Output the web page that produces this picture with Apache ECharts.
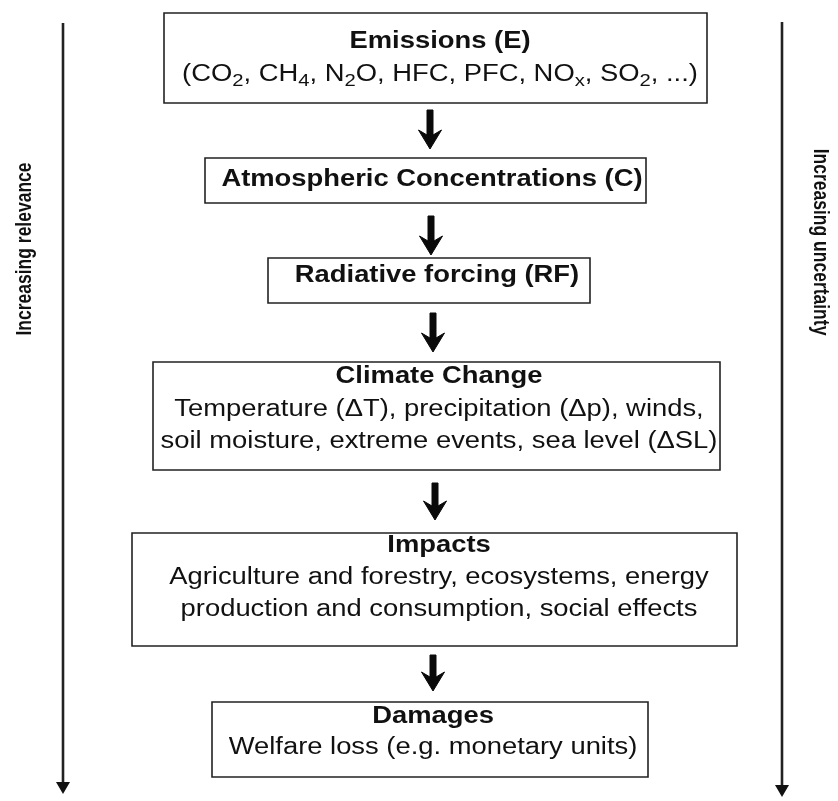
<!DOCTYPE html>
<html>
<head>
<meta charset="utf-8">
<script src="https://cdn.jsdelivr.net/npm/echarts@6/dist/echarts.min.js"></script>
<style>
html,body{margin:0;padding:0;background:#fff;}
#chart{width:838px;height:801px;}
</style>
</head>
<body>
<div id="chart"></div>
<script>
// ---- content (texts) ----
const boxTitles = [
  'Emissions (E)',
  'Atmospheric Concentrations (C)',
  'Radiative forcing (RF)',
  'Climate Change',
  'Impacts',
  'Damages'
];
const boxDetails = [
  ['(CO{s|2}, CH{s|4}, N{s|2}O, HFC, PFC, NO{s|x}, SO{s|2}, ...)'],
  [],
  [],
  ['Temperature (\u0394T), precipitation (\u0394p), winds,', 'soil moisture, extreme events, sea level (\u0394SL)'],
  ['Agriculture and forestry, ecosystems, energy', 'production and consumption, social effects'],
  ['Welfare loss (e.g. monetary units)']
];
const sideLabels = ['Increasing relevance', 'Increasing uncertainty'];

// ---- layout (positions in diagram units) ----
// [left, top, right, bottom, textCenterX, firstLineY, lineGap]
const boxLayout = [
  [164, 13, 707, 103, 440, 42, 33],
  [205, 158, 646, 203, 432, 180, 33],
  [268, 258, 590, 303, 437, 276, 33],
  [153, 362, 720, 470, 439, 377, 32.5],
  [132, 533, 737, 646, 439, 546, 32],
  [212, 702, 648, 777, 433, 717, 31]
];
// [x, yStart, yTip]
const arrowLayout = [
  [430, 110, 149],
  [431, 216, 255],
  [433, 313, 352],
  [435, 483, 520],
  [433, 655, 691]
];
// [x, yStart, yTip, textX, textY, rotationSign]
const sideLayout = [
  [63, 23, 794, 25, 249, 1],
  [782, 22, 797, 820, 242, -1]
];

const FONT = '"Liberation Sans", Arial, Helvetica, sans-serif';
const STRETCH = 1.19;

const chart = echarts.init(document.getElementById('chart'), null, {renderer: 'canvas'});

function renderBox(params, api) {
  const i = params.dataIndex;
  const p0 = api.coord([api.value(0), api.value(1)]);
  const p1 = api.coord([api.value(2), api.value(3)]);
  const t = api.coord([api.value(4), api.value(5)]);
  const gapPx = api.coord([api.value(4), api.value(5) + api.value(6)])[1] - t[1];
  const children = [{
    type: 'rect',
    shape: {x: p0[0], y: p0[1], width: p1[0] - p0[0], height: p1[1] - p0[1]},
    style: {fill: '#fff', stroke: '#222', lineWidth: 1.6}
  }];
  const lines = [{text: boxTitles[i], bold: true}].concat(boxDetails[i].map(s => ({text: s, bold: false})));
  lines.forEach((ln, k) => {
    children.push({
      type: 'text',
      x: t[0],
      y: t[1] + k * gapPx,
      scaleX: STRETCH,
      style: {
        text: ln.text,
        fontFamily: FONT,
        fontSize: 23,
        fontWeight: ln.bold ? 'bold' : 'normal',
        fill: '#111',
        align: 'center',
        verticalAlign: 'middle',
        lineHeight: 30,
        rich: {
          s: {fontFamily: FONT, fontSize: 17, lineHeight: 18, verticalAlign: 'bottom', fill: '#111'}
        }
      }
    });
  });
  return {type: 'group', children: children};
}

function renderArrow(params, api) {
  const a = api.coord([api.value(0), api.value(1)]);
  const b = api.coord([api.value(0), api.value(2)]);
  const x = a[0], y0 = a[1], y1 = b[1];
  return {
    type: 'polygon',
    shape: {points: [
      [x - 3, y0], [x + 3, y0], [x + 3, y1 - 14], [x + 11.5, y1 - 19],
      [x, y1], [x - 11.5, y1 - 19], [x - 3, y1 - 14]
    ]},
    style: {fill: '#0a0a0a', stroke: '#0a0a0a', lineWidth: 1, lineJoin: 'round'}
  };
}

function renderSide(params, api) {
  const i = params.dataIndex;
  const a = api.coord([api.value(0), api.value(1)]);
  const b = api.coord([api.value(0), api.value(2)]);
  const t = api.coord([api.value(3), api.value(4)]);
  const rot = api.value(5) * Math.PI / 2;
  return {
    type: 'group',
    children: [
      {type: 'line', shape: {x1: a[0], y1: a[1], x2: b[0], y2: b[1] - 8},
       style: {stroke: '#222', lineWidth: 2.6}},
      {type: 'polygon', shape: {points: [[b[0] - 7, b[1] - 12], [b[0] + 7, b[1] - 12], [b[0], b[1]]]},
       style: {fill: '#111'}},
      {type: 'text', x: t[0], y: t[1], rotation: rot, scaleY: 1.3,
       style: {text: sideLabels[i], fontFamily: FONT, fontSize: 17.5, fontWeight: 'bold',
               fill: '#111', align: 'center', verticalAlign: 'middle'}}
    ]
  };
}

chart.setOption({
  animation: false,
  backgroundColor: '#fff',
  grid: {left: 0, right: 0, top: 0, bottom: 0},
  xAxis: {type: 'value', min: 0, max: 838, show: false},
  yAxis: {type: 'value', min: 0, max: 801, inverse: true, show: false},
  series: [
    {type: 'custom', name: 'sides', renderItem: renderSide, data: sideLayout, silent: true,
     encode: {x: [0, 3], y: [1, 2, 4]}},
    {type: 'custom', name: 'arrows', renderItem: renderArrow, data: arrowLayout, silent: true,
     encode: {x: 0, y: [1, 2]}},
    {type: 'custom', name: 'boxes', renderItem: renderBox, data: boxLayout, silent: true,
     encode: {x: [0, 2, 4], y: [1, 3, 5]}}
  ]
});
</script>
</body>
</html>
